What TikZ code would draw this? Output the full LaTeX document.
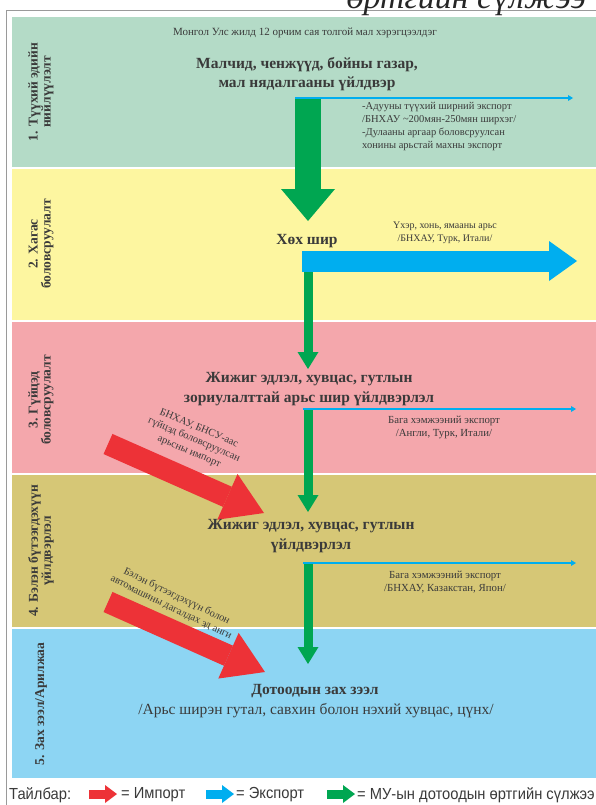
\documentclass[tikz,border=0pt]{standalone}
\usepackage{fontspec}
\setmainfont{Liberation Serif}
\newfontfamily\legendfont{Liberation Sans}[FakeStretch=0.92]
\usetikzlibrary{arrows.meta}
\definecolor{bandA}{HTML}{B4DBC7}
\definecolor{bandB}{HTML}{FDF6A0}
\definecolor{bandC}{HTML}{F4A7AC}
\definecolor{bandD}{HTML}{D6C776}
\definecolor{bandE}{HTML}{8DD5F3}
\definecolor{grn}{HTML}{00A651}
\definecolor{blu}{HTML}{00AEEF}
\definecolor{rd}{HTML}{ED3237}
\definecolor{txt}{HTML}{3A3A3A}
\definecolor{framec}{HTML}{9A9A9A}
\begin{document}
\begin{tikzpicture}[x=1pt,y=-1pt,
  title/.style={font=\bfseries\fontsize{15.5}{19.5}\selectfont, text=txt, align=center, inner sep=0pt},
  small/.style={font=\fontsize{10}{12.5}\selectfont, text=txt, align=center, inner sep=0pt},
  smallb/.style={font=\fontsize{10.8}{13}\selectfont, text=txt, align=center, inner sep=0pt},
  note/.style={font=\fontsize{11}{13}\selectfont, text=txt, align=center, inner sep=0pt},
  imptext/.style={font=\fontsize{10.5}{12.5}\selectfont, text=txt, align=center, inner sep=0pt},
  stage/.style={font=\bfseries\fontsize{13.5}{13}\selectfont, text=txt, align=center, rotate=90, inner sep=0pt},
  thinexp/.style={blu, line width=2.5pt, -{Triangle[width=6pt,length=5pt,line width=0pt]}},
  biggrn/.style={grn, line width=26pt, -{Triangle[width=54pt,length=32pt,line width=0pt]}},
  stem/.style={grn, line width=9pt, -{Triangle[width=21pt,length=17pt,line width=0pt]}},
  bigblu/.style={blu, line width=21pt, -{Triangle[width=40pt,length=28pt,line width=0pt]}},
  imp/.style={rd, line width=22pt, -{Triangle[width=50pt,length=40pt,line width=0pt]}},
  legarrow/.style={line width=9pt, -{Triangle[width=18pt,length=12pt,line width=0pt]}},
  legtext/.style={font=\legendfont\fontsize{16}{18}\selectfont, text=txt, anchor=west, inner sep=0pt},
]
\useasboundingbox (0,0) rectangle (596,805);
\clip (0,0) rectangle (596,805);
\fill[white] (0,0) rectangle (596,805);
% bands
\fill[bandA] (12,17) rectangle (596,167);
\fill[bandB] (12,169) rectangle (596,320);
\fill[bandC] (12,322) rectangle (596,473);
\fill[bandD] (12,475) rectangle (596,627);
\fill[bandE] (12,629) rectangle (596,778);
% frame
\draw[framec, line width=0.8pt] (6,805) -- (6,10) -- (596,10);
% cropped heading
\node[anchor=base east, inner sep=0pt, font=\itshape\fontsize{34}{34}\selectfont, text=black!85] (heading) at (586,9) {өртгийн сүлжээ};

% stage labels
\node[stage] (s1) at (41,92) {1. Түүхий эдийн\\нийлүүлэлт};
\node[stage] (s2) at (41,244) {2. Хагас\\боловсруулалт};
\node[stage] (s3) at (41,400) {3. Гүйцэд\\боловсруулалт};
\node[stage] (s4) at (41,551) {4. Бэлэн бүтээгдэхүүн\\үйлдвэрлэл};
\node[stage] (s5) at (41,704) {5. Зах зээл/Арилжаа};

% band 1
\node[note] (nt) at (305,33) {Монгол Улс жилд 12 орчим сая толгой мал хэрэгцээлдэг};
\node[title] (t1) at (307,74) {Малчид, ченжүүд, бойны газар,\\мал нядалгааны үйлдвэр};
\coordinate (e1s) at (295,98);
\coordinate (e1e) at (573,98);
\draw[thinexp] (e1s) -- (e1e);
\coordinate (g1s) at (308,99);
\coordinate (g1e) at (308,221);
\draw[biggrn] (g1s) -- (g1e);
\node[font=\fontsize{10.5}{13}\selectfont, text=txt, inner sep=0pt, align=left, anchor=north west] (x1) at (362,102) {-Адууны түүхий ширний экспорт\\/БНХАУ \textasciitilde200мян-250мян ширхэг/\\-Дулааны аргаар боловсруулсан\\хонины арьстай махны экспорт};

% band 2
\node[title] (t2) at (307,241) {Хөх шир};
\node[small] (x2) at (445,233) {Үхэр, хонь, ямааны арьс\\/БНХАУ, Турк, Итали/};
\coordinate (b2s) at (302,261);
\coordinate (b2e) at (577,261);
\coordinate (g2s) at (308,271);
\coordinate (g2e) at (308,369);
\draw[stem] (g2s) -- (g2e);
\draw[bigblu] (b2s) -- (b2e);

% band 3
\node[title] (t3) at (309,389) {Жижиг эдлэл, хувцас, гутлын\\зориулалттай арьс шир үйлдвэрлэл};
\coordinate (e3s) at (303,409);
\coordinate (e3e) at (576,409);
\coordinate (g3s) at (308,409);
\coordinate (g3e) at (308,512);
\draw[stem] (g3s) -- (g3e);
\draw[thinexp] (e3s) -- (e3e);
\node[smallb] (x3) at (444,427) {Бага хэмжээний экспорт\\/Англи, Турк, Итали/};
\coordinate (r1s) at (108,444);
\coordinate (r1e) at (264,513);
\draw[imp] (r1s) -- (r1e);
\node[imptext, rotate=-23] (rt1) at (194,440) {БНХАУ, БНСУ-аас\\гүйцэд боловсруулсан\\арьсны импорт};

% band 4
\node[title] (t4) at (311,536) {Жижиг эдлэл, хувцас, гутлын\\үйлдвэрлэл};
\coordinate (e4s) at (303,563);
\coordinate (e4e) at (576,563);
\coordinate (g4s) at (308,563);
\coordinate (g4e) at (308,664);
\draw[stem] (g4s) -- (g4e);
\draw[thinexp] (e4s) -- (e4e);
\node[smallb] (x4) at (445,582) {Бага хэмжээний экспорт\\/БНХАУ, Казакстан, Япон/};
\coordinate (r2s) at (108,602);
\coordinate (r2e) at (265,672);
\draw[imp] (r2s) -- (r2e);
\node[imptext, rotate=-26] (rt2) at (174,602) {Бэлэн бүтээгдэхүүн болон\\автомашины дагалдах эд анги};

% band 5
\node[title] (t5) at (315,691) {Дотоодын зах зээл};
\node[font=\fontsize{15.5}{18}\selectfont, text=txt, inner sep=0pt] (t5b) at (316,711) {/Арьс ширэн гутал, савхин болон нэхий хувцас, цүнх/};

% legend
\node[legtext] (lg0) at (9,795) {Тайлбар:};
\coordinate (l1s) at (89,794);
\coordinate (l1e) at (117,794);
\draw[legarrow, rd] (l1s) -- (l1e);
\node[legtext] (lg1) at (121,795) {= Импорт};
\coordinate (l2s) at (206,794);
\coordinate (l2e) at (234,794);
\draw[legarrow, blu] (l2s) -- (l2e);
\node[legtext] (lg2) at (236,795) {= Экспорт};
\coordinate (l3s) at (327,794);
\coordinate (l3e) at (355,794);
\draw[legarrow, grn] (l3s) -- (l3e);
\node[legtext] (lg3) at (357,795) {= МУ-ын дотоодын өртгийн сүлжээ};
\end{tikzpicture}
\end{document}
